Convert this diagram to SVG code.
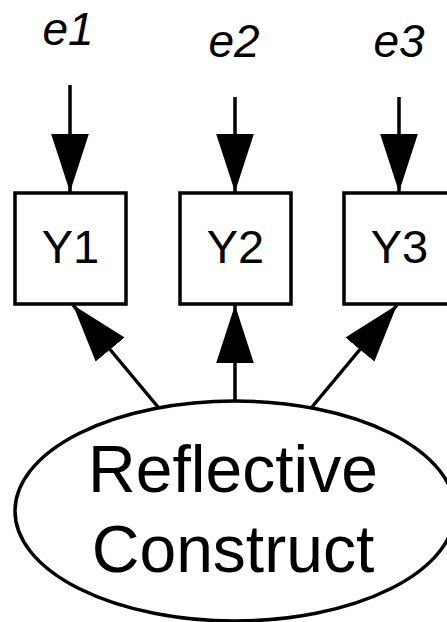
<svg xmlns="http://www.w3.org/2000/svg" width="447" height="622" viewBox="0 0 447 622">
<style>
.box{fill:#fff;stroke:#000;stroke-width:3.5}
.ell{fill:#fff;stroke:#000;stroke-width:3.5}
.lbl{font-family:"Liberation Sans",Arial,sans-serif;fill:#000;text-anchor:middle}
.err{font-size:46px;font-style:italic}
.obs{font-size:47px}
.lat{font-size:66px}
.edge{stroke:#000;stroke-width:3.5;fill:none;marker-end:url(#ah)}
</style>
<defs>
<marker id="ah" markerUnits="userSpaceOnUse" markerWidth="58" markerHeight="38" viewBox="0 0 57 37" refX="57" refY="18.5" orient="auto">
<path d="M0,0 L57,18.5 L0,37 z" fill="#000"/>
</marker>
</defs>
<rect width="447" height="622" fill="#fff"/>
<g id="e1"><text class="lbl err" x="68" y="45">e1</text></g>
<g id="e2"><text class="lbl err" x="234" y="57">e2</text></g>
<g id="e3"><text class="lbl err" x="399" y="57">e3</text></g>
<g id="connectors">
<line class="edge" x1="70" y1="85" x2="70" y2="192"/>
<line class="edge" x1="235" y1="97" x2="235" y2="192"/>
<line class="edge" x1="399" y1="97" x2="399" y2="192"/>
<line class="edge" x1="158" y1="407" x2="73" y2="305"/>
<line class="edge" x1="235" y1="401" x2="235" y2="305"/>
<line class="edge" x1="312" y1="407" x2="397" y2="305"/>
</g>
<g id="Y1"><rect class="box" x="15" y="193" width="111" height="111"/><text class="lbl obs" x="70.5" y="263">Y1</text></g>
<g id="Y2"><rect class="box" x="180" y="193" width="111" height="111"/><text class="lbl obs" x="235.5" y="263">Y2</text></g>
<g id="Y3"><rect class="box" x="344" y="193" width="111" height="111"/><text class="lbl obs" x="399.5" y="263">Y3</text></g>
<g id="construct"><ellipse class="ell" cx="235" cy="511" rx="220" ry="110"/><text class="lbl lat" x="233" y="492">Reflective</text><text class="lbl lat" x="233" y="572">Construct</text></g>
</svg>
